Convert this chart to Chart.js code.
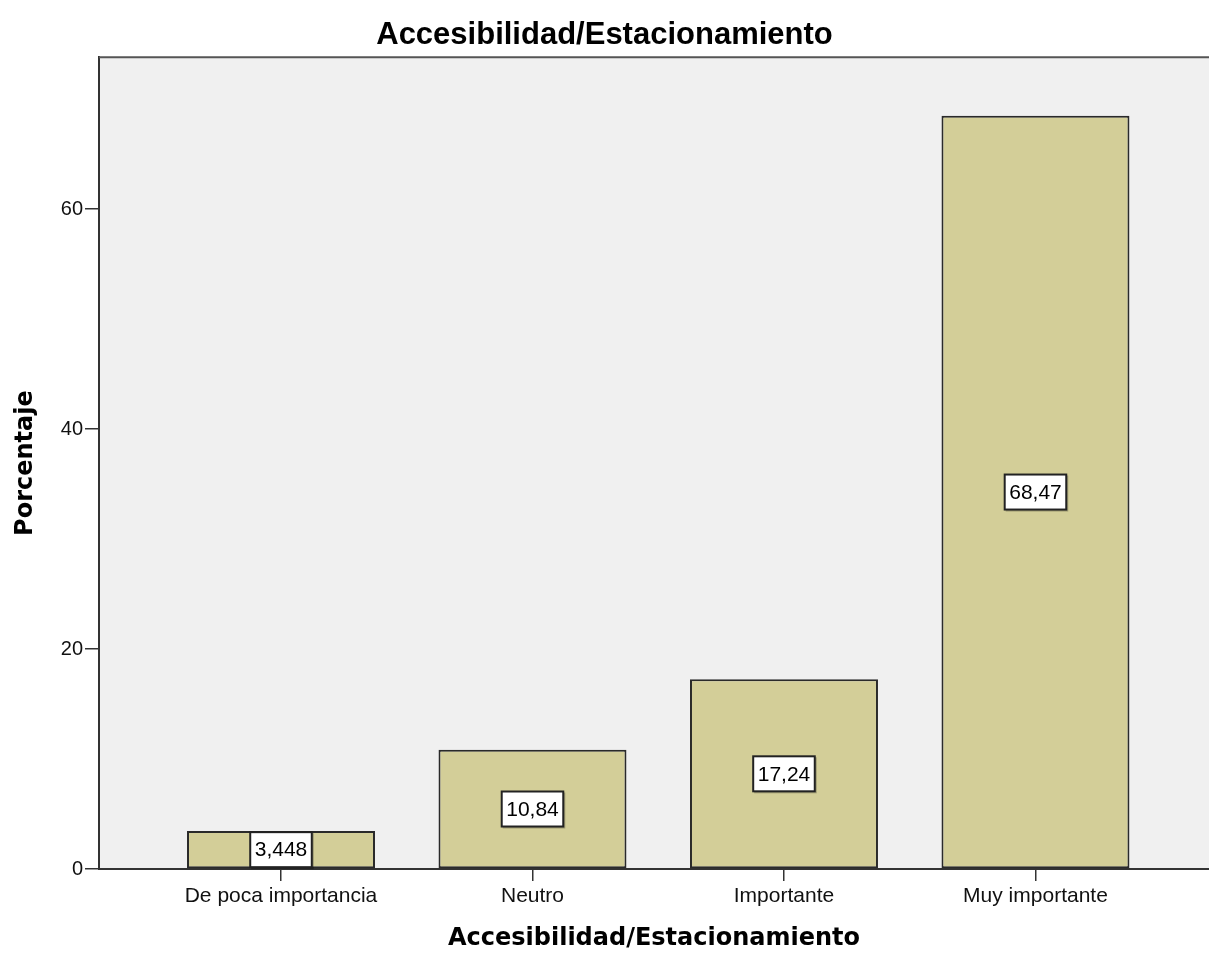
<!DOCTYPE html>
<html>
<head>
<meta charset="utf-8">
<script src="https://cdn.jsdelivr.net/npm/chart.js@4"></script>
<style>
  html, body { margin: 0; padding: 0; background: #fff; overflow: hidden; }
</style>
</head>
<body>
<canvas id="myChart" width="1209" height="956"></canvas>
<script>
// datos
let categorias = ['De poca importancia', 'Neutro', 'Importante', 'Muy importante'];
let porcentajes = [3.448, 10.84, 17.24, 68.47];
let marcasY = [0, 20, 40, 60];

// fondo gris y borde superior del area del grafico
let fondoPlugin = {
    id: 'fondo',
    beforeDraw: function(chart) {
        let a = chart.chartArea, ctx = chart.ctx;
        ctx.save();
        ctx.fillStyle = '#f0f0f0';
        ctx.fillRect(a.left, a.top, a.right - a.left, a.bottom - a.top);
        ctx.restore();
    },
    afterDraw: function(chart) {
        let a = chart.chartArea, ctx = chart.ctx;
        ctx.save();
        ctx.strokeStyle = '#555';
        ctx.lineWidth = 2;
        ctx.beginPath();
        ctx.moveTo(a.left, a.top);
        ctx.lineTo(a.right, a.top);
        ctx.stroke();
        ctx.restore();
    }
};

// etiquetas de valor en cajas blancas
let etiquetasPlugin = {
    id: 'etiquetas',
    afterDatasetsDraw: function(chart) {
        let ctx = chart.ctx;
        let meta = chart.getDatasetMeta(0);
        ctx.save();
        ctx.font = '21px "Liberation Sans", Arial, sans-serif';
        ctx.textAlign = 'center';
        ctx.textBaseline = 'middle';
        meta.data.forEach(function(bar, i) {
            let txt = String(porcentajes[i]).replace('.', ',');
            let w = ctx.measureText(txt).width + 9;
            let h = 35;
            let cx = bar.x, cy = (bar.y + bar.base) / 2;
            ctx.fillStyle = 'rgba(0,0,0,0.25)';
            ctx.fillRect(cx - w / 2 + 1, cy - h / 2 + 1, w + 1, h + 1);
            ctx.fillStyle = '#fff';
            ctx.fillRect(cx - w / 2, cy - h / 2, w, h);
            ctx.strokeStyle = '#222';
            ctx.lineWidth = 2;
            ctx.strokeRect(cx - w / 2, cy - h / 2, w, h);
            ctx.fillStyle = '#000';
            ctx.fillText(txt, cx, cy + 1);
        });
        ctx.restore();
    }
};

let chart1 = new Chart(document.getElementById('myChart').getContext('2d'), {
    type: 'bar',
    data: {
        datasets: [{
            label: 'Porcentaje',
            data: porcentajes.map(function(v, i) { return {x: i, y: v}; }),
            backgroundColor: '#d3ce98',
            borderColor: '#2a2a2a',
            borderWidth: 2,
            borderSkipped: false,
            barPercentage: 0.7475,
            categoryPercentage: 1
        }]
    },
    options: {
        responsive: false,
        animation: false,
        layout: { padding: 0 },
        plugins: {
            legend: { display: false },
            tooltip: { enabled: false },
            title: {
                display: true,
                text: 'Accesibilidad/Estacionamiento',
                color: '#000',
                font: { family: '"Liberation Sans", Arial, sans-serif', size: 31, weight: 'bold' },
                padding: { top: 17, bottom: 3 }
            }
        },
        scales: {
            x: {
                type: 'linear',
                offset: false,
                min: -0.7237,
                max: 3.69,
                afterFit: function(s) { s.height = 87; },
                afterBuildTicks: function(s) {
                    s.ticks = s.ticks.filter(function(t) { return Number.isInteger(t.value); });
                },
                ticks: {
                    stepSize: 1,
                    includeBounds: false,
                    autoSkip: false,
                    maxRotation: 0,
                    padding: 3,
                    color: '#111',
                    font: { family: '"Liberation Sans", Arial, sans-serif', size: 21 },
                    callback: function(v) { return categorias[v]; }
                },
                grid: {
                    offset: false,
                    drawOnChartArea: false,
                    drawTicks: true,
                    tickLength: 12,
                    color: '#333',
                    lineWidth: 1.5
                },
                border: { display: true, color: '#333', width: 2 },
                title: {
                    display: true,
                    text: 'Accesibilidad/Estacionamiento',
                    color: '#000',
                    font: { family: '"DejaVu Sans", sans-serif', size: 24, weight: 'bold' },
                    padding: { top: 0, bottom: 3 }
                }
            },
            y: {
                min: 0,
                max: 73.8,
                afterFit: function(s) { s.width = 99; },
                afterBuildTicks: function(s) {
                    s.ticks = marcasY.map(function(v) { return {value: v}; });
                },
                ticks: {
                    stepSize: 20,
                    includeBounds: false,
                    padding: 2,
                    color: '#111',
                    font: { family: '"Liberation Sans", Arial, sans-serif', size: 20 }
                },
                grid: {
                    drawOnChartArea: false,
                    drawTicks: true,
                    tickLength: 14,
                    color: '#333',
                    lineWidth: 1.5
                },
                border: { display: true, color: '#333', width: 2 },
                title: {
                    display: true,
                    text: 'Porcentaje',
                    color: '#000',
                    font: { family: '"DejaVu Sans", sans-serif', size: 24, weight: 'bold' },
                    padding: { top: 11, bottom: 0 }
                }
            }
        }
    },
    plugins: [fondoPlugin, etiquetasPlugin]
});
</script>
</body>
</html>
